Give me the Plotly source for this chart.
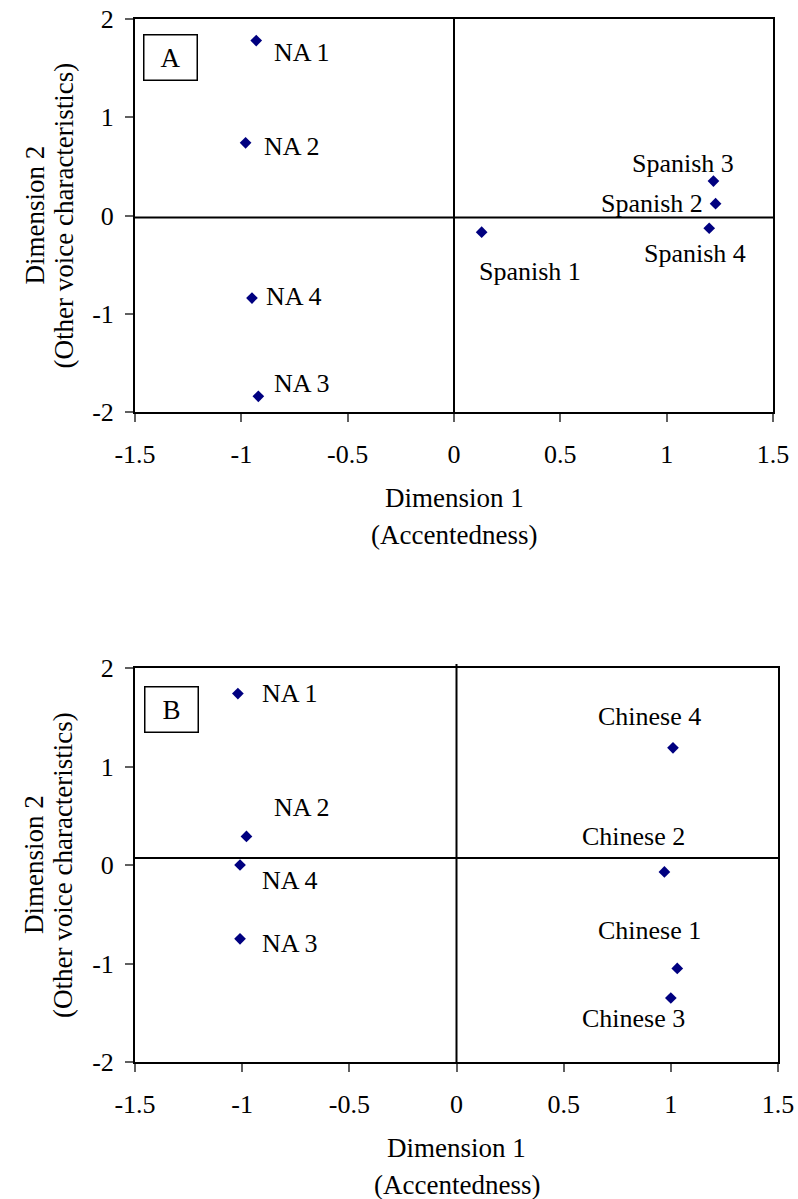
import plotly.graph_objects as go

# ---------------- data ----------------
# Panel A: NA vs Spanish speakers
a_labels = ["NA 1", "NA 2", "NA 4", "NA 3", "Spanish 1", "Spanish 3", "Spanish 2", "Spanish 4"]
a_x = [-0.93, -0.98, -0.95, -0.92, 0.13, 1.22, 1.23, 1.20]
a_y = [1.78, 0.74, -0.84, -1.84, -0.17, 0.35, 0.12, -0.13]

# Panel B: NA vs Chinese speakers
b_labels = ["NA 1", "NA 2", "NA 4", "NA 3", "Chinese 4", "Chinese 2", "Chinese 1", "Chinese 3"]
b_x = [-1.02, -0.98, -1.01, -1.01, 1.01, 0.97, 1.03, 1.00]
b_y = [1.74, 0.29, 0.00, -0.75, 1.19, -0.07, -1.05, -1.35]

# reference (centre) lines
a_vline, a_hline = 0.0, -0.02
b_vline, b_hline = 0.0, 0.07

x_tickvals = [-1.5, -1, -0.5, 0, 0.5, 1, 1.5]
x_ticktext = ["-1.5", "-1", "-0.5", "0", "0.5", "1", "1.5"]
y_tickvals = [-2, -1, 0, 1, 2]
y_ticktext = ["-2", "-1", "0", "1", "2"]

x_title = ["Dimension 1", "(Accentedness)"]
y_title = ["Dimension 2", "(Other voice characteristics)"]
panel_tags = ["A", "B"]

# ---------------- style ----------------
# label offsets in pixels (xshift, yshift) relative to each point, label centred
a_offsets = [(46, -12), (46, -4), (42, 2), (44, 13), (48, -39), (-30, 18), (-64, 0), (-14, -25)]
b_offsets = [(52, 0), (56, 29), (50, -15), (50, -5), (-23, 31), (-31, 35), (-28, 38), (-37, -21)]

W, H = 798, 1199
FONT = "'Liberation Serif', 'Times New Roman', serif"
NAVY = "#000080"


def px_x(a, b):
    return [a / W, b / W]


def px_y(top, bottom):
    return [1 - bottom / H, 1 - top / H]


fig = go.Figure()

panels = [
    dict(xs=a_x, ys=a_y, labels=a_labels, offs=a_offsets, xa="x", ya="y",
         vline=a_vline, hline=a_hline, tag=panel_tags[0], vtop=1.0,
         xdom=px_x(135, 773), ydom=px_y(19, 412), tagbox=(8, -15)),
    dict(xs=b_x, ys=b_y, labels=b_labels, offs=b_offsets, xa="x2", ya="y2",
         vline=b_vline, hline=b_hline, tag=panel_tags[1], vtop=1.01,
         xdom=px_x(135, 778), ydom=px_y(668, 1062), tagbox=(9, -18)),
]

annotations = []
shapes = []
for i, p in enumerate(panels):
    fig.add_trace(go.Scatter(
        x=p["xs"], y=p["ys"], mode="markers", xaxis=p["xa"], yaxis=p["ya"],
        marker=dict(symbol="diamond", size=9, color=NAVY, line=dict(width=0)),
        showlegend=False, hoverinfo="skip", cliponaxis=False))
    for lab, xv, yv, (dx, dy) in zip(p["labels"], p["xs"], p["ys"], p["offs"]):
        annotations.append(dict(
            x=xv, y=yv, xref=p["xa"], yref=p["ya"], text=lab, showarrow=False,
            xanchor="center", yanchor="middle", xshift=dx, yshift=dy,
            font=dict(family=FONT, size=26, color="black")))
    # reference lines
    shapes.append(dict(type="line", xref=p["xa"], yref=p["ya"] + " domain",
                       x0=p["vline"], x1=p["vline"], y0=0, y1=p["vtop"],
                       line=dict(color="black", width=2)))
    shapes.append(dict(type="line", xref=p["xa"] + " domain", yref=p["ya"],
                       x0=0, x1=1, y0=p["hline"], y1=p["hline"],
                       line=dict(color="black", width=2)))
    # panel tag box
    annotations.append(dict(
        x=0, y=1, xref=p["xa"] + " domain", yref=p["ya"] + " domain",
        xanchor="left", yanchor="top", xshift=p["tagbox"][0], yshift=p["tagbox"][1],
        text=p["tag"], showarrow=False, width=52, height=44, borderpad=0,
        bordercolor="black", borderwidth=1.5, bgcolor="white",
        font=dict(family=FONT, size=27, color="black")))
    # x title (two lines)
    for k, (txt, dy) in enumerate(zip(x_title, [-86, -123])):
        annotations.append(dict(
            x=0.5, y=0, xref=p["xa"] + " domain", yref=p["ya"] + " domain",
            xanchor="center", yanchor="middle", yshift=dy, text=txt,
            showarrow=False, font=dict(family=FONT, size=27, color="black")))
    # y title (two lines, rotated)
    for k, (txt, cx) in enumerate(zip(y_title, [34, 63])):
        annotations.append(dict(
            x=0, y=0.5, xref=p["xa"] + " domain", yref=p["ya"] + " domain",
            xanchor="center", yanchor="middle", xshift=cx - 135, text=txt,
            textangle=-90, showarrow=False,
            font=dict(family=FONT, size=27, color="black")))

axis_common = dict(showline=True, mirror=True, linecolor="black", linewidth=2,
                   ticks="outside", ticklen=8, tickwidth=1.5, tickcolor="#606060",
                   showgrid=False, zeroline=False, automargin=False,
                   ticklabeloverflow="allow",
                   tickfont=dict(family=FONT, size=26, color="black"))

fig.update_layout(
    width=W, height=H, autosize=False,
    margin=dict(l=0, r=0, t=0, b=0, pad=0, autoexpand=False),
    paper_bgcolor="white", plot_bgcolor="white", showlegend=False,
    annotations=annotations, shapes=shapes,
    xaxis=dict(domain=panels[0]["xdom"], anchor="y", range=[-1.5, 1.5],
               tickvals=x_tickvals, ticktext=x_ticktext, ticklabelstandoff=10, **axis_common),
    yaxis=dict(domain=panels[0]["ydom"], anchor="x", range=[-2, 2],
               tickvals=y_tickvals, ticktext=y_ticktext, ticklabelstandoff=6, **axis_common),
    xaxis2=dict(domain=panels[1]["xdom"], anchor="y2", range=[-1.5, 1.5],
                tickvals=x_tickvals, ticktext=x_ticktext, ticklabelstandoff=10, **axis_common),
    yaxis2=dict(domain=panels[1]["ydom"], anchor="x2", range=[-2, 2],
                tickvals=y_tickvals, ticktext=y_ticktext, ticklabelstandoff=6, **axis_common),
)

# remove the default 8px page margin so the figure sits at the window's top-left corner
fig.write_html(
    "out.html",
    config={"responsive": False, "displayModeBar": False},
    post_script="document.body.style.margin='0px';document.body.style.overflow='hidden';",
)
